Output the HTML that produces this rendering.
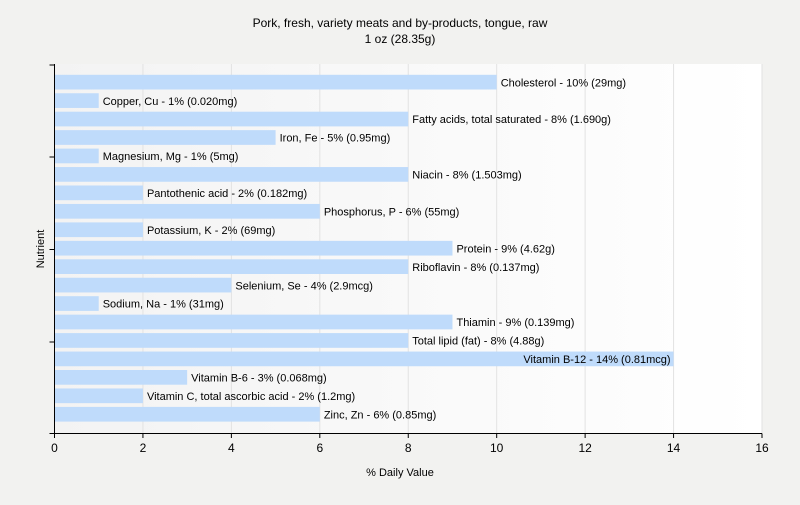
<!DOCTYPE html>
<html><head><meta charset="utf-8"><style>
body{margin:0;background:#f2f2f0;font-family:"Liberation Sans",sans-serif;}
svg text{font-family:"Liberation Sans",sans-serif;}
</style></head><body>
<svg id="c" width="800" height="500">
<defs><linearGradient id="bg" x1="0" x2="1" y1="0" y2="0"><stop offset="0" stop-color="#f3f3f3"/><stop offset="1" stop-color="#ffffff"/></linearGradient></defs>
<rect x="0" y="0" width="800" height="500" fill="#f2f2f0"/>
<text x="400" y="27" font-size="12" text-anchor="middle">Pork, fresh, variety meats and by-products, tongue, raw</text>
<text x="400" y="43" font-size="12" text-anchor="middle">1 oz (28.35g)</text>
<rect x="54.5" y="64" width="707.5" height="369.5" fill="url(#bg)"/>
<g id="grid"></g><g id="bars"></g><g id="axes"></g>
<text x="400" y="476" font-size="11" text-anchor="middle">% Daily Value</text>
<text x="44" y="249" font-size="11" text-anchor="middle" transform="rotate(-90 44 249)">Nutrient</text>
</svg>
<script>
const categories=["Cholesterol - 10% (29mg)","Copper, Cu - 1% (0.020mg)","Fatty acids, total saturated - 8% (1.690g)","Iron, Fe - 5% (0.95mg)","Magnesium, Mg - 1% (5mg)","Niacin - 8% (1.503mg)","Pantothenic acid - 2% (0.182mg)","Phosphorus, P - 6% (55mg)","Potassium, K - 2% (69mg)","Protein - 9% (4.62g)","Riboflavin - 8% (0.137mg)","Selenium, Se - 4% (2.9mcg)","Sodium, Na - 1% (31mg)","Thiamin - 9% (0.139mg)","Total lipid (fat) - 8% (4.88g)","Vitamin B-12 - 14% (0.81mcg)","Vitamin B-6 - 3% (0.068mg)","Vitamin C, total ascorbic acid - 2% (1.2mg)","Zinc, Zn - 6% (0.85mg)"];
const values=[10,1,8,5,1,8,2,6,2,9,8,4,1,9,8,14,3,2,6];
const xTicks=[0,2,4,6,8,10,12,14,16];
const NS="http://www.w3.org/2000/svg";
const x0=54.5,x1=762,xMax=16,top0=74.8,pitch=18.45,bh=14.7;
const X=v=>x0+(x1-x0)*v/xMax;
const Y=i=>top0+i*pitch;
function mk(t,a,p){const e=document.createElementNS(NS,t);for(const k in a)e.setAttribute(k,a[k]);document.getElementById(p).appendChild(e);return e;}
xTicks.forEach(t=>{
 if(t>0){const g=mk('line',{x1:X(t),x2:X(t),y1:64,y2:433.5,stroke:'#e2e2e2'},'grid');
 
 }
 const tk=mk('line',{x1:X(t),x2:X(t),y1:433.5,y2:438,stroke:'#000'},'axes');
 
 
 const l=mk('text',{x:X(t),y:452,'font-size':12,'text-anchor':'middle'},'axes');l.textContent=t;
 
 
});
values.forEach((v,i)=>{
 const r=mk('rect',{x:x0,y:Y(i),width:X(v)-x0,height:bh,fill:'#bfdbfb'},'bars');
 
 
 const t=mk('text',{x:X(v)+4,y:Y(i)+11.5,'font-size':11,fill:'#000'},'bars');t.textContent=categories[i];
 
 
 if(X(v)+4+t.getComputedTextLength()>x1){t.setAttribute('x',X(v)-3);t.setAttribute('text-anchor','end');}
});
const ya=mk('line',{x1:x0,x2:x0,y1:64,y2:433.5,stroke:'#000'},'axes');


const xa=mk('line',{x1:x0-5,x2:x1,y1:433.5,y2:433.5,stroke:'#000'},'axes');


[65,157,249.5,342,433.5].forEach(y=>{
 const t=mk('line',{x1:x0-5,x2:x0,y1:y,y2:y,stroke:'#000'},'axes');
 
 
});
</script>
</body></html>
